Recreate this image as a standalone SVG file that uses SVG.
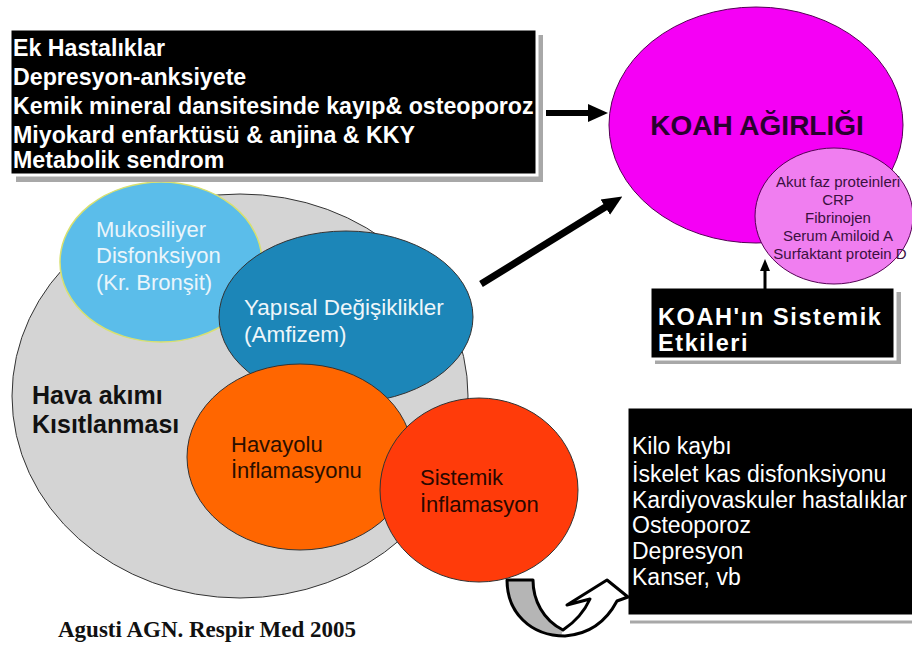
<svg xmlns="http://www.w3.org/2000/svg" width="912" height="648" viewBox="0 0 912 648">
<defs>
<style>
.sans{font-family:"Liberation Sans",Arial,sans-serif}
.bw{font-family:"Liberation Sans",Arial,sans-serif;font-weight:bold;fill:#fff}
.rw{font-family:"Liberation Sans",Arial,sans-serif;fill:#fff}
.shadow{fill:#a8a8a8}
.box{fill:#000;stroke:#fff;stroke-width:3}
.ell{stroke:#333;stroke-width:1}
.conn{stroke:#000;fill:none}
</style>
<marker id="ah" markerUnits="userSpaceOnUse" markerWidth="20" markerHeight="20" refX="2" refY="10" orient="auto">
<path d="M0,1 L20,10 L0,19 Z" fill="#000"/>
</marker>
<marker id="ahs" markerUnits="userSpaceOnUse" markerWidth="12" markerHeight="12" refX="1" refY="6" orient="auto">
<path d="M0,1 L12,6 L0,11 Z" fill="#000"/>
</marker>
</defs>
<rect width="912" height="648" fill="#fff"/>

<g id="hava-akimi">
<ellipse class="ell" cx="240" cy="396" rx="228" ry="202" fill="#d4d4d4" stroke="#444"/>
<text class="sans" font-weight="bold" font-size="25" fill="#111"><tspan x="32" y="404">Hava akımı</tspan><tspan x="32" y="433">Kısıtlanması</tspan></text>
</g>

<g id="mukosiliyer">
<ellipse cx="161" cy="262" rx="101" ry="80" fill="#5bbdea" stroke="#d8e070" stroke-width="1.5"/>
<text class="sans" font-size="22" fill="#eaf5fb"><tspan x="96" y="237">Mukosiliyer</tspan><tspan x="96" y="263">Disfonksiyon</tspan><tspan x="96" y="290">(Kr. Bronşit)</tspan></text>
</g>

<g id="yapisal">
<ellipse class="ell" cx="346" cy="317" rx="127" ry="86" fill="#1c86b8"/>
<text class="sans" font-size="22.5" fill="#eef6fa"><tspan x="244" y="315">Yapısal Değişiklikler</tspan><tspan x="244" y="342">(Amfizem)</tspan></text>
</g>

<g id="havayolu">
<ellipse class="ell" cx="300" cy="457" rx="113" ry="93" fill="#ff6600"/>
<text class="sans" font-size="22" fill="#2a0f00"><tspan x="231" y="452">Havayolu</tspan><tspan x="231" y="478">İnflamasyonu</tspan></text>
</g>

<g id="sistemik">
<ellipse class="ell" cx="479" cy="490" rx="99" ry="92" fill="#ff3b0a"/>
<text class="sans" font-size="22" fill="#2a0800"><tspan x="420" y="485">Sistemik</tspan><tspan x="420" y="512">İnflamasyon</tspan></text>
</g>

<g id="ek-hastaliklar">
<rect class="shadow" x="16" y="35" width="527" height="147"/>
<rect class="box" x="10" y="29" width="527" height="146"/>
<text class="bw" font-size="23.2"><tspan x="13" y="56">Ek Hastalıklar</tspan><tspan x="13" y="85">Depresyon-anksiyete</tspan><tspan x="13" y="114">Kemik mineral dansitesinde kayıp&amp; osteoporoz</tspan><tspan x="13" y="143">Miyokard enfarktüsü &amp; anjina &amp; KKY</tspan><tspan x="13" y="168">Metabolik sendrom</tspan></text>
</g>

<g id="koah-agirligi">
<ellipse cx="756" cy="125" rx="147" ry="118" fill="#f500f5" stroke="#550055" stroke-width="1"/>
<text class="sans" font-size="28" font-weight="bold" fill="#2a0030" text-anchor="middle" x="757" y="135">KOAH AĞIRLIĞI</text>
</g>

<g id="akut-faz">
<ellipse cx="834" cy="216" rx="79" ry="68" fill="#f07ef0" stroke="#550055" stroke-width="1"/>
<text class="sans" font-size="15" fill="#3a1040" text-anchor="middle"><tspan x="838" y="187">Akut faz proteinleri</tspan><tspan x="838" y="205">CRP</tspan><tspan x="838" y="223">Fibrinojen</tspan><tspan x="838" y="241">Serum Amiloid A</tspan><tspan x="840" y="259">Surfaktant protein D</tspan></text>
</g>

<g id="sistemik-etkiler">
<rect class="shadow" x="655" y="292" width="246" height="72"/>
<rect class="box" x="650" y="287" width="245" height="72"/>
<text class="bw" font-size="23.5" letter-spacing="1.6"><tspan x="658" y="325">KOAH'ın Sistemik</tspan><tspan x="658" y="351">Etkileri</tspan></text>
</g>

<g id="etkiler-listesi">
<line x1="630" y1="622" x2="912" y2="622" stroke="#a8a8a8" stroke-width="3"/>
<rect class="box" x="627" y="407" width="290" height="209"/>
<text class="rw" font-size="23"><tspan x="632" y="454">Kilo kaybı</tspan><tspan x="632" y="482">İskelet kas disfonksiyonu</tspan><tspan x="632" y="508">Kardiyovaskuler hastalıklar</tspan><tspan x="632" y="533">Osteoporoz</tspan><tspan x="632" y="559">Depresyon</tspan><tspan x="632" y="585">Kanser, vb</tspan></text>
</g>

<g id="connectors">
<line class="conn" x1="546" y1="113" x2="590" y2="113" stroke-width="6" marker-end="url(#ah)"/>
<line class="conn" x1="481" y1="284" x2="607" y2="206" stroke-width="7" marker-end="url(#ah)"/>
<line class="conn" x1="765" y1="296" x2="765" y2="270" stroke-width="3" marker-end="url(#ahs)"/>
<path d="M507,580 L533,580 C533,600 543,620 563,630 L561,636 C530,634 507,612 507,580 Z" fill="#b5b5b5"/>
<path d="M507,580 L533,580 C533,600 543,620 563,630 C575,622 585,610 590,599 L567,605 L607,580 L628,597 L617,601 C608,618 592,634 565,636 C530,636 507,612 507,580 Z" fill="none" stroke="#000" stroke-width="3" stroke-linejoin="round"/>
</g>

<text font-family="'Liberation Serif','Times New Roman',serif" font-weight="bold" font-size="23" fill="#111" x="58" y="637">Agusti AGN. Respir Med 2005</text>
</svg>
